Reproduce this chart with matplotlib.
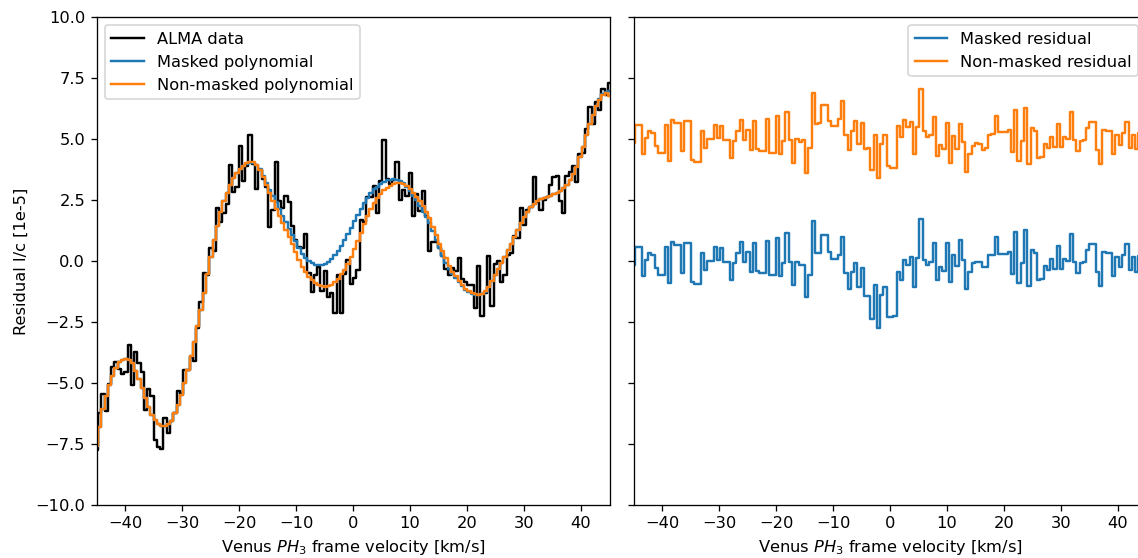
import numpy as np
import matplotlib

matplotlib.use("Agg")
import matplotlib.pyplot as plt  # noqa: E402

# Residual spectra in units of 1e-5 of the continuum, one value per channel.
# The masked residual; the two polynomial baselines
# are read off the left panel.  ALMA data = masked polynomial + masked residual.
masked_resid = [
    -0.16, 0.59, 0.59, -0.61, 0.04, 0.34, 0.25, -0.29, -0.57, -0.57,
    0.59, -0.89, 0.79, 0.66, 0.66, -0.5, 0.75, 0.75, -0.85, -0.94,
    -0.94, 0.33, -0.37, 0.01, 0.01, 0.59, 0.04, 0.53, -0.03, -0.03,
    -0.78, -0.08, 0.33, 0.79, -0.03, 0.38, -0.44, 0.73, -0.4, -0.48,
    -0.48, 0.83, -0.57, -0.57, 0.93, -0.61, -0.07, 1.13, -0.03, -0.98,
    -0.03, -0.16, -0.16, -1.49, -0.57, 1.65, 0.34, 0.34, 1.07, 1.07,
    0.38, 0.07, 0.07, 0.25, 0.97, -0.48, -1.16, -0.44, -0.07, -1.08,
    -0.3, -1.43, -1.43, -2.39, -0.98, -2.76, -1.39, -1.05, -2.31, -2.31,
    -2.27, -0.44, -0.78, 0.04, -0.16, 0.15, -1.08, 0.11, 1.71, 0.04,
    -0.16, -0.03, 0.75, -0.78, -0.26, -0.4, 0.72, -0.85, 0.25, -0.2,
    0.86, 0.04, -1.16, -0.44, -0.1, -0.03, -0.03, -0.25, -0.25, 0.25,
    0.25, 0.97, 0.29, 0.29, 0.29, 0.37, -0.53, 1.2, -0.91, -0.07,
    1.27, -1.02, 0.45, 0.33, -0.78, -0.75, -0.2, -0.37, 0.07, -0.33,
    0.61, -0.33, 0.07, 0.01, 1.11, -0.03, -0.48, -0.1, -0.03, 0.45,
    0.7, 0.7, -0.44, -1.02, 0.37, 0.33, 0.33, -0.61, 0.15, -0.25,
    0.25, 0.7, -0.37, 0.15, -0.44, 0.2, -0.1, 0.3,
]

nonmasked_poly = [
    -7.6, -6.8, -6.05, -5.55, -5.1, -4.7, -4.4, -4.15, -4.05, -4.0,
    -4.05, -4.2, -4.5, -4.85, -5.2, -5.6, -6.0, -6.3, -6.5, -6.68,
    -6.75, -6.78, -6.7, -6.55, -6.25, -5.9, -5.5, -5.0, -4.45, -3.9,
    -3.3, -2.65, -2.0, -1.3, -0.55, 0.15, 0.85, 1.45, 2.0, 2.45,
    2.8, 3.1, 3.4, 3.6, 3.78, 3.9, 4.0, 4.05, 4.05, 3.95,
    3.73, 3.45, 3.1, 2.8, 2.45, 2.15, 1.85, 1.55, 1.28, 1.0,
    0.7, 0.35, 0.05, -0.25, -0.47, -0.65, -0.8, -0.9, -0.97, -1.02,
    -1.05, -1.04, -0.97, -0.86, -0.72, -0.55, -0.35, -0.12, 0.18, 0.5,
    0.82, 1.15, 1.5, 1.85, 2.12, 2.38, 2.58, 2.76, 2.9, 3.0,
    3.08, 3.15, 3.19, 3.2, 3.16, 3.08, 2.95, 2.8, 2.62, 2.45,
    2.25, 2.0, 1.75, 1.4, 1.05, 0.7, 0.4, 0.12, -0.2, -0.45,
    -0.62, -0.82, -1.0, -1.15, -1.25, -1.32, -1.37, -1.39, -1.35, -1.25,
    -1.05, -0.82, -0.57, -0.32, -0.07, 0.18, 0.43, 0.7, 0.97, 1.27,
    1.55, 1.8, 2.02, 2.22, 2.35, 2.45, 2.55, 2.6, 2.64, 2.68,
    2.74, 2.8, 2.88, 2.98, 3.12, 3.33, 3.55, 3.85, 4.25, 4.67,
    5.15, 5.6, 6.0, 6.35, 6.6, 6.82, 6.88, 6.75,
]

masked_poly = [
    -7.6, -6.8, -6.05, -5.55, -5.1, -4.7, -4.4, -4.15, -4.05, -4.0,
    -4.05, -4.2, -4.5, -4.85, -5.2, -5.6, -6.0, -6.3, -6.5, -6.68,
    -6.75, -6.78, -6.7, -6.55, -6.25, -5.9, -5.5, -5.0, -4.45, -3.9,
    -3.3, -2.65, -2.0, -1.3, -0.55, 0.15, 0.85, 1.45, 2.0, 2.45,
    2.8, 3.1, 3.4, 3.6, 3.78, 3.9, 3.98, 4.02, 4.02, 3.95,
    3.75, 3.5, 3.2, 2.9, 2.65, 2.4, 2.13, 1.85, 1.6, 1.33,
    1.05, 0.8, 0.52, 0.3, 0.12, -0.02, -0.1, -0.15, -0.16, -0.15,
    -0.11, -0.03, 0.1, 0.25, 0.42, 0.62, 0.85, 1.1, 1.37, 1.63,
    1.88, 2.12, 2.36, 2.6, 2.78, 2.93, 3.05, 3.15, 3.23, 3.3,
    3.33, 3.34, 3.32, 3.27, 3.18, 3.05, 2.88, 2.68, 2.48, 2.25,
    2.02, 1.82, 1.55, 1.22, 0.88, 0.55, 0.22, -0.08, -0.32, -0.52,
    -0.68, -0.85, -1.02, -1.17, -1.27, -1.34, -1.38, -1.4, -1.36, -1.26,
    -1.05, -0.82, -0.57, -0.32, -0.07, 0.18, 0.43, 0.7, 0.97, 1.27,
    1.55, 1.8, 2.02, 2.22, 2.35, 2.45, 2.55, 2.6, 2.64, 2.68,
    2.74, 2.8, 2.88, 2.98, 3.12, 3.33, 3.55, 3.85, 4.25, 4.67,
    5.15, 5.6, 6.0, 6.35, 6.62, 6.85, 6.92, 6.98,
]

RESID_OFFSET = 5.0  # non-masked residual is shifted up for display
DPI = 117  # the reference was drawn ~1.17x larger than matplotlib's default

masked_resid = np.array(masked_resid)
masked_poly = np.array(masked_poly)
nonmasked_poly = np.array(nonmasked_poly)
velocity = np.linspace(-45, 45, len(masked_resid))  # channel centres, km/s

alma = masked_poly + masked_resid
nonmasked_resid = alma - nonmasked_poly + RESID_OFFSET

fig = plt.figure(figsize=(1138 / DPI, 558 / DPI), dpi=DPI)
ax_fit = fig.add_axes([0.0848, 0.095, 0.4508, 0.8746])
ax_res = fig.add_axes([0.5567, 0.095, 0.4508, 0.8746], sharey=ax_fit)

ax_fit.step(velocity, alma, where="mid", color="black", label="ALMA data")
ax_fit.step(velocity, masked_poly, where="mid", color="C0",
            label="Masked polynomial")
ax_fit.step(velocity, nonmasked_poly, where="mid", color="C1",
            label="Non-masked polynomial")
ax_fit.legend(loc="upper left")

ax_res.step(velocity, masked_resid, where="mid", color="C0",
            label="Masked residual")
ax_res.step(velocity, nonmasked_resid, where="mid", color="C1",
            label="Non-masked residual")
ax_res.legend(loc="upper right")

for ax in (ax_fit, ax_res):
    ax.set_xlim(-45, 45)
    ax.set_xlabel("Venus $PH_3$ frame velocity [km/s]")
ax_fit.set_ylim(-10, 10)
ax_fit.set_yticks(np.arange(-10, 10.01, 2.5))
ax_fit.set_ylabel("Residual I/c [1e-5]")
ax_res.tick_params(labelleft=False)

fig.savefig("out.png", dpi=DPI)
